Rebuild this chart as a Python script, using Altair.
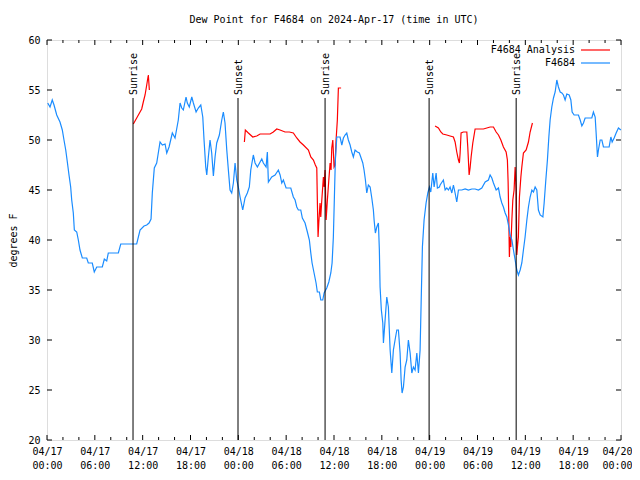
import altair as alt
import pandas as pd

FONT = "DejaVu Sans Mono"

# Observed dew point (hours since 2024-04-17 00:00 UTC, degrees F)
blue_hours = [0.09, 0.38, 0.66, 0.88, 1.22, 1.63, 1.92, 2.13, 2.35, 2.55, 2.76, 2.97, 3.10, 3.30, 3.43, 3.73, 3.93, 4.14, 4.43, 4.98,
              5.18, 5.68, 5.93, 6.24, 6.94, 7.19, 7.49, 7.69, 8.95, 9.25, 11.25, 11.67, 12.17, 12.51, 12.80, 13.05, 13.21, 13.46, 13.76, 13.96,
              14.18, 14.47, 14.81, 15.02, 15.31, 15.72, 16.06, 16.47, 16.69, 16.90, 17.10, 17.44, 17.60, 17.85, 18.16, 18.36, 18.70, 18.98, 19.29, 19.54,
              19.70, 19.91, 20.04, 20.24, 20.45, 20.66, 20.87, 21.08, 21.29, 21.62, 21.92, 22.12, 22.33, 22.55, 22.75, 22.96, 23.17, 23.38, 23.59, 23.80,
              24.00, 24.22, 24.55, 24.84, 25.13, 25.38, 25.56, 25.88, 26.10, 26.39, 26.73, 26.94, 27.14, 27.48, 27.64, 27.77, 28.19, 28.61, 29.02, 29.24,
              29.45, 29.65, 29.99, 30.58, 30.90, 31.12, 31.33, 31.53, 31.83, 32.03, 32.37, 32.66, 32.91, 33.09, 33.25, 33.50, 33.75, 33.91, 34.17, 34.34,
              34.59, 34.76, 35.09, 35.35, 35.60, 35.76, 35.92, 36.05, 36.17, 36.35, 36.76, 36.98, 37.18, 37.39, 37.60, 37.80, 38.02, 38.23, 38.43, 38.64,
              38.93, 39.18, 39.40, 39.61, 39.77, 39.94, 40.11, 40.31, 40.53, 40.74, 40.94, 41.03, 41.19, 41.37, 41.57, 41.69, 41.78, 41.94, 42.12, 42.20,
              42.41, 42.62, 42.82, 43.04, 43.25, 43.45, 43.66, 43.88, 44.08, 44.29, 44.42, 44.54, 44.71, 44.92, 45.13, 45.33, 45.55, 45.76, 45.96, 46.17,
              46.39, 46.59, 46.80, 46.93, 47.09, 47.30, 47.55, 47.77, 47.97, 48.14, 48.39, 48.56, 48.81, 48.97, 49.22, 49.31, 49.72, 49.94, 50.15, 50.35,
              50.56, 50.78, 50.98, 51.19, 51.40, 51.61, 52.03, 52.45, 52.86, 53.29, 53.70, 54.12, 54.54, 54.96, 55.37, 55.58, 55.80, 56.00, 56.34, 56.63,
              56.84, 57.05, 57.25, 57.47, 57.68, 57.88, 58.09, 58.31, 58.51, 58.72, 58.93, 59.13, 59.35, 59.56, 59.76, 59.97, 60.19, 60.39, 60.60, 60.82,
              61.02, 61.23, 61.44, 61.64, 61.86, 62.20, 62.36, 62.57, 62.77, 62.95, 63.11, 63.32, 63.53, 63.74, 63.95, 64.15, 64.37, 64.58, 64.78, 64.99,
              65.20, 65.50, 65.71, 65.87, 66.12, 66.66, 66.88, 67.09, 67.29, 67.50, 68.34, 68.54, 68.76, 68.88, 69.05, 69.17, 69.39, 69.60, 69.80, 70.51,
              70.73, 70.89, 71.14, 71.39, 71.68, 71.98]
blue_values = [53.7, 53.3, 54.0, 53.5, 52.5, 51.8, 51.0, 50.0, 49.0, 47.8, 46.5, 45.3, 44.0, 42.7, 41.0, 40.8, 40.0, 39.0, 38.2, 38.2,
               37.7, 37.7, 36.8, 37.3, 37.3, 38.1, 37.9, 38.7, 38.7, 39.6, 39.6, 41.0, 41.4, 41.5, 41.7, 42.1, 44.7, 47.2, 47.7, 48.7,
               49.8, 49.5, 49.6, 48.7, 49.3, 50.7, 50.2, 52.0, 53.7, 53.2, 53.0, 54.3, 53.7, 53.3, 54.3, 53.7, 52.8, 53.2, 53.5, 52.3,
               50.0, 47.3, 46.5, 48.3, 50.0, 48.7, 46.4, 48.3, 49.7, 50.5, 52.0, 52.8, 51.7, 49.0, 47.0, 45.0, 44.7, 45.7, 47.7, 46.0,
               45.3, 44.3, 43.0, 44.2, 44.7, 45.3, 47.0, 48.5, 47.7, 47.3, 47.8, 48.1, 47.7, 47.3, 48.8, 45.8, 46.3, 46.5, 47.0, 46.5,
               45.7, 46.0, 45.2, 45.2, 44.3, 44.0, 43.3, 43.0, 43.0, 42.2, 41.7, 40.8, 40.0, 38.7, 37.7, 36.7, 35.7, 34.8, 34.8, 34.0,
               34.0, 34.7, 35.2, 35.8, 36.7, 37.7, 40.3, 44.3, 48.0, 50.3, 50.3, 49.5, 50.2, 50.5, 50.7, 50.0, 49.5, 48.8, 48.3, 49.0,
               48.8, 48.7, 48.2, 47.7, 47.0, 46.0, 44.7, 45.5, 45.3, 44.2, 43.0, 42.0, 40.7, 41.3, 41.7, 39.0, 35.3, 33.0, 31.7, 29.7,
               32.0, 34.3, 33.3, 29.0, 26.7, 29.0, 30.0, 31.0, 31.0, 28.7, 26.0, 24.7, 25.3, 27.3, 28.0, 30.0, 28.7, 26.7, 27.3, 27.0,
               28.7, 26.7, 29.0, 33.7, 39.3, 42.0, 43.7, 44.7, 45.3, 44.8, 46.7, 45.3, 46.7, 45.2, 45.3, 45.5, 46.0, 45.0, 45.2, 45.0,
               45.3, 44.7, 45.5, 44.7, 43.8, 45.0, 45.0, 45.1, 45.0, 45.1, 45.1, 45.0, 45.2, 45.8, 46.0, 46.5, 46.2, 45.7, 45.0, 45.2,
               44.3, 43.7, 43.3, 42.7, 42.3, 41.5, 40.5, 40.0, 39.0, 38.0, 37.0, 36.5, 37.0, 37.7, 39.0, 40.3, 42.0, 43.3, 44.3, 45.0,
               44.8, 45.3, 45.0, 43.0, 42.5, 42.3, 43.7, 46.0, 48.0, 50.3, 52.0, 53.3, 54.2, 54.8, 56.0, 55.3, 54.8, 54.7, 54.5, 54.0,
               54.6, 54.5, 54.0, 52.8, 52.5, 52.5, 52.0, 51.4, 51.7, 52.2, 52.2, 52.8, 52.3, 50.7, 48.3, 49.0, 50.0, 50.0, 49.3, 49.3,
               50.3, 49.8, 50.2, 50.7, 51.2, 51.0]

# Analysis dew point, in three separate daytime pieces
red_hours = [10.83, 11.25, 11.67, 11.88, 12.08, 12.30, 12.51, 12.71, 12.84,
             24.76, 24.88, 25.26, 25.81, 26.31, 26.73, 27.98, 28.39, 28.82, 29.23, 29.86, 30.40, 30.90, 31.33, 31.74, 32.16, 32.79, 33.09, 33.42,
             33.66, 33.84, 33.91, 34.00, 34.09, 34.25, 34.34, 34.47, 34.67, 34.76, 34.88, 35.01, 35.17, 35.35, 35.51, 35.63, 35.72, 35.85, 36.01,
             36.14, 36.26, 36.42, 36.55, 36.89,
             48.68, 49.10, 49.40, 49.65, 50.15, 50.56, 50.98, 51.19, 51.40, 51.61, 51.73, 51.82, 51.94, 52.23, 52.66, 52.78, 52.95, 53.07, 53.20,
             53.41, 53.70, 54.74, 55.17, 55.58, 56.00, 56.34, 56.63, 56.93, 57.25, 57.59, 57.75, 57.84, 57.93, 58.00, 58.09, 58.18, 58.31, 58.43,
             58.59, 58.72, 58.85, 58.93, 59.01, 59.13, 59.26, 59.44, 59.56, 59.76, 60.10, 60.39, 60.60, 60.89]
red_values = [51.6, 52.2, 52.8, 53.1, 53.8, 54.5, 55.5, 56.5, 55.0,
              49.8, 51.0, 50.7, 50.3, 50.4, 50.6, 50.6, 50.8, 51.1, 51.0, 50.8, 50.8, 50.7, 50.2, 49.8, 49.5, 49.0, 48.3, 48.0,
              47.5, 47.2, 44.0, 40.3, 41.7, 43.7, 42.3, 44.0, 46.3, 45.3, 47.0, 42.0, 44.0, 46.0, 47.7, 47.0, 49.2, 50.0, 47.3,
              47.5, 50.0, 52.0, 55.2, 55.2,
              51.4, 51.2, 50.8, 50.6, 50.5, 50.4, 50.3, 49.8, 48.8, 48.0, 47.7, 48.7, 50.7, 50.8, 50.8, 49.3, 46.5, 47.2, 48.3,
              49.7, 51.1, 51.1, 51.2, 51.3, 51.3, 50.8, 50.5, 50.0, 49.3, 48.8, 48.0, 45.8, 42.0, 38.3, 40.3, 39.3, 42.0, 44.0,
              45.0, 47.3, 45.0, 38.5, 39.3, 40.3, 44.3, 46.3, 47.3, 48.7, 49.0, 49.8, 50.8, 51.7]
red_segments = [1] * 9 + [2] * 43 + [3] * 52

sun_hours = [10.79, 23.96, 34.88, 47.93, 58.85]
sun_labels = ["Sunrise", "Sunset", "Sunrise", "Sunset", "Sunrise"]

x_major = [0, 6, 12, 18, 24, 30, 36, 42, 48, 54, 60, 66, 72]
x_minor = [2, 4, 8, 10, 14, 16, 20, 22, 26, 28, 32, 34, 38, 40, 44, 46, 50, 52, 56, 58, 62, 64, 68, 70]
x_label_dates = ["04/17", "04/17", "04/17", "04/17", "04/18", "04/18", "04/18", "04/18", "04/19", "04/19", "04/19", "04/19", "04/20"]
x_label_times = ["00:00", "06:00", "12:00", "18:00", "00:00", "06:00", "12:00", "18:00", "00:00", "06:00", "12:00", "18:00", "00:00"]
y_major = [20, 25, 30, 35, 40, 45, 50, 55, 60]

series_names = ["F4684 Analysis", "F4684"]
series_colors = ["#ff0000", "#1a8cff"]

W, H = 574, 400

obs = pd.DataFrame({"h": blue_hours, "v": blue_values, "series": "F4684", "seg": 0})
ana = pd.DataFrame({"h": red_hours, "v": red_values, "series": "F4684 Analysis", "seg": red_segments})
lines_df = pd.concat([ana, obs], ignore_index=True)
sun_df = pd.DataFrame({"h": sun_hours, "label": sun_labels})

pairs = ",".join("['%s','%s']" % (d, t) for d, t in zip(x_label_dates, x_label_times))
label_expr = "[%s][round(datum.value / 6)]" % pairs
last_tick = "datum.value == %d" % x_major[-1]

xscale = alt.Scale(domain=[0, 72], nice=False, zero=False)
yscale = alt.Scale(domain=[20, 60], nice=False, zero=False)
color_scale = alt.Scale(domain=series_names, range=series_colors)

x_enc = alt.X("h:Q", scale=xscale, title=None,
              axis=alt.Axis(values=x_major, labelExpr=label_expr, tickSize=0, domain=False, grid=False,
                            labelFont=FONT, labelFontSize=10, labelColor="black", labelPadding=6,
                            labelLineHeight=14, labelFlush=False, labelOverlap=False, labelBaseline="top",
                            labelAlign={"condition": {"test": last_tick, "value": "right"}, "value": "center"},
                            labelOffset={"condition": {"test": last_tick, "value": 11}, "value": 0}))
y_enc = alt.Y("v:Q", scale=yscale, title="degrees F",
              axis=alt.Axis(values=y_major, tickSize=0, domain=False, grid=False, labelFont=FONT,
                            labelFontSize=10, labelColor="black", labelPadding=7, titleFont=FONT,
                            titleFontSize=10, titleFontWeight="normal", titleColor="black", titlePadding=9))

lines = alt.Chart(lines_df).mark_line(strokeWidth=1.2).encode(
    x=x_enc, y=y_enc,
    color=alt.Color("series:N", scale=color_scale, legend=None),
    detail="seg:N",
)

sun_rules = alt.Chart(sun_df).mark_rule(color="black", strokeWidth=1).encode(
    x=alt.X("h:Q", scale=xscale), y=alt.datum(20), y2=alt.datum(54.2))

sun_text = alt.Chart(sun_df).mark_text(angle=270, align="left", baseline="middle", font=FONT, fontSize=10,
                                       color="black", dy=1).encode(
    x=alt.X("h:Q", scale=xscale), y=alt.datum(54.5), text="label:N")

xmaj_df = pd.DataFrame({"h": x_major})
xmin_df = pd.DataFrame({"h": x_minor})
ymaj_df = pd.DataFrame({"v": y_major})


def xticks(df, length):
    bottom = alt.Chart(df).mark_rule(color="black").encode(
        x=alt.X("h:Q", scale=xscale), y=alt.value(H), y2=alt.value(H - length))
    top = alt.Chart(df).mark_rule(color="black").encode(
        x=alt.X("h:Q", scale=xscale), y=alt.value(0), y2=alt.value(length))
    return [bottom, top]


yt_left = alt.Chart(ymaj_df).mark_rule(color="black").encode(
    y=alt.Y("v:Q", scale=yscale), x=alt.value(0), x2=alt.value(5))
yt_right = alt.Chart(ymaj_df).mark_rule(color="black").encode(
    y=alt.Y("v:Q", scale=yscale), x=alt.value(W), x2=alt.value(W - 5))

legend_rows = [10, 23]
legend_layers = []
for name, row in zip(series_names, legend_rows):
    df = pd.DataFrame({"series": [name]})
    legend_layers.append(alt.Chart(df).mark_text(align="right", baseline="middle", font=FONT, fontSize=10,
                                                 color="black").encode(
        x=alt.value(528), y=alt.value(row), text="series:N"))
    legend_layers.append(alt.Chart(df).mark_rule(strokeWidth=1.2).encode(
        x=alt.value(534), x2=alt.value(563), y=alt.value(row),
        color=alt.Color("series:N", scale=color_scale, legend=None)))

layers = [lines, sun_rules, sun_text] + xticks(xmaj_df, 5) + xticks(xmin_df, 3) + [yt_left, yt_right] + legend_layers

chart = alt.layer(*layers).properties(
    width=W, height=H,
    title=alt.Title("Dew Point for F4684 on 2024-Apr-17 (time in UTC)", font=FONT, fontSize=10,
                    fontWeight="normal", color="black", anchor="middle", offset=10),
    autosize=alt.AutoSizeParams(type="none"),
    padding={"left": 39, "top": 32, "right": 11, "bottom": 32},
).configure_view(stroke="black", strokeWidth=1).configure(background="white")

chart.save("out.html", embed_options={"renderer": "svg", "actions": False})
